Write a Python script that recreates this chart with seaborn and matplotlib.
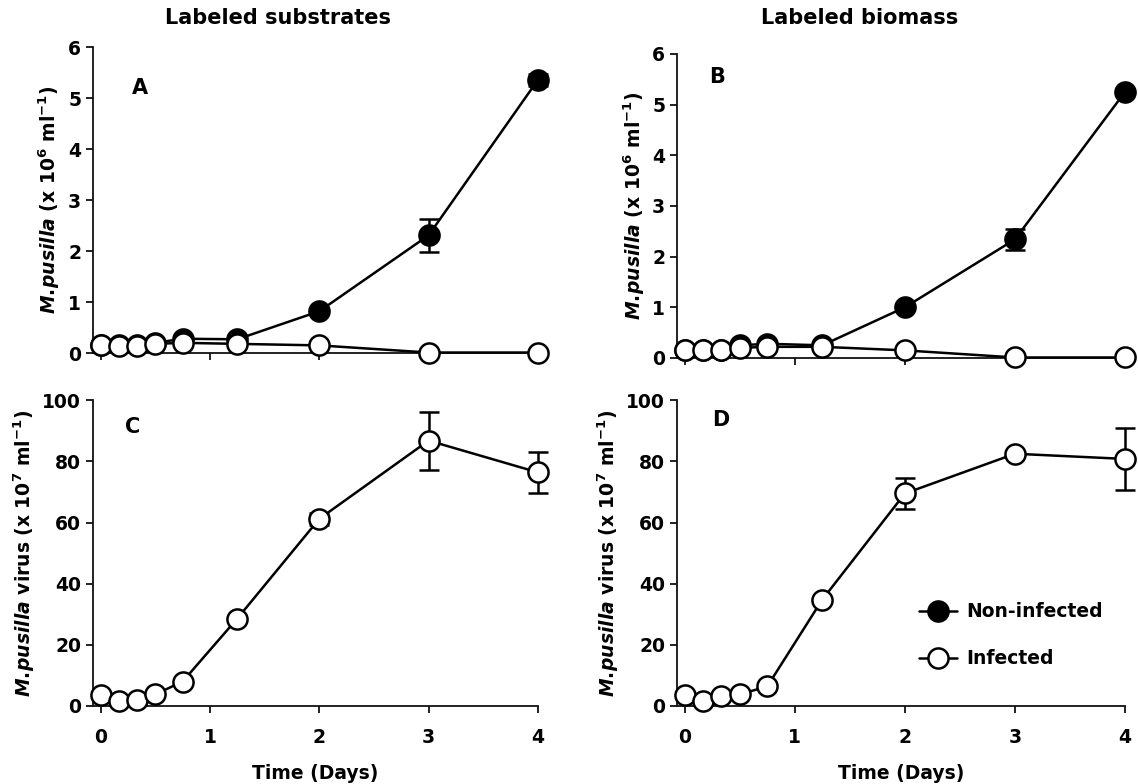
import matplotlib
matplotlib.use("Agg")
import matplotlib.pyplot as plt
from matplotlib.lines import Line2D
import seaborn as sns
import pandas as pd

# ---- data ----
days = [0, 0.17, 0.33, 0.5, 0.75, 1.25, 2, 3, 4]

a_noninf = [0.15, 0.15, 0.15, 0.20, 0.28, 0.27, 0.82, 2.31, 5.36]
a_noninf_err = [0, 0, 0, 0, 0, 0, 0.05, 0.32, 0.12]
a_inf = [0.15, 0.13, 0.13, 0.18, 0.20, 0.18, 0.15, 0.01, 0.01]

b_noninf = [0.15, 0.15, 0.15, 0.25, 0.28, 0.25, 1.00, 2.34, 5.25]
b_noninf_err = [0, 0, 0, 0, 0, 0, 0.05, 0.21, 0.05]
b_inf = [0.15, 0.15, 0.15, 0.20, 0.22, 0.22, 0.15, 0.01, 0.01]

c_virus = [3.5, 1.7, 2.0, 3.8, 8.0, 28.6, 61.2, 86.8, 76.4]
c_virus_err = [0, 0, 0, 0, 0, 0, 2.0, 9.5, 6.7]

d_virus = [3.5, 1.5, 3.3, 3.8, 6.4, 34.8, 69.5, 82.5, 80.8]
d_virus_err = [0, 0, 0, 0, 0, 0, 5.0, 0, 10.0]

titles = ["Labeled substrates", "Labeled biomass"]
panel_letters = ["A", "B", "C", "D"]
legend_labels = ["Non-infected", "Infected"]

sns.set_theme(style="ticks")
plt.rcParams["font.family"] = ["DejaVu Sans"]
plt.rcParams["font.weight"] = "bold"
plt.rcParams["text.color"] = "black"
plt.rcParams["axes.labelcolor"] = "black"
plt.rcParams["xtick.color"] = "black"
plt.rcParams["ytick.color"] = "black"
plt.rcParams["mathtext.fontset"] = "custom"
plt.rcParams["mathtext.rm"] = "DejaVu Sans:bold"
plt.rcParams["mathtext.it"] = "DejaVu Sans:italic:bold"
plt.rcParams["mathtext.bf"] = "DejaVu Sans:bold"
plt.rcParams["mathtext.default"] = "rm"

fig = plt.figure(figsize=(11.38, 7.84), dpi=100)
axA = fig.add_axes([0.0817, 0.5497, 0.391, 0.390])
axB = fig.add_axes([0.5949, 0.5434, 0.3937, 0.3878])
axC = fig.add_axes([0.0817, 0.0995, 0.391, 0.390])
axD = fig.add_axes([0.5949, 0.0995, 0.3937, 0.390])

MS = 14.5
MEW = 1.8
LW = 1.8
FS = 13.5


def draw_series(ax, y, err, filled, z):
    df = pd.DataFrame({"day": days, "val": y})
    sns.lineplot(data=df, x="day", y="val", ax=ax, color="black", linewidth=LW,
                 marker="o", markersize=MS, markeredgewidth=MEW,
                 markerfacecolor="black" if filled else "white",
                 markeredgecolor="black", clip_on=False, zorder=z, errorbar=None)
    if err is not None:
        xs = [d for d, e in zip(days, err) if e > 0]
        ys = [v for v, e in zip(y, err) if e > 0]
        es = [e for e in err if e > 0]
        ax.errorbar(xs, ys, yerr=es, fmt="none", ecolor="black", elinewidth=LW,
                    capsize=7, capthick=LW, zorder=z - 1, clip_on=False)


draw_series(axA, a_noninf, a_noninf_err, True, 4)
draw_series(axA, a_inf, None, False, 6)
draw_series(axB, b_noninf, b_noninf_err, True, 4)
draw_series(axB, b_inf, None, False, 6)
draw_series(axC, c_virus, c_virus_err, False, 6)
draw_series(axD, d_virus, d_virus_err, False, 6)

label_top = r"$\mathit{M.\!pusilla}$ (x 10$^{6}$ ml$^{-1}$)"
label_bot = r"$\mathit{M.\!pusilla}$ virus (x 10$^{7}$ ml$^{-1}$)"

for ax, letter, pos in zip([axA, axB, axC, axD], panel_letters,
                           [(0.105, 0.866), (0.09, 0.924), (0.09, 0.912), (0.098, 0.935)]):
    sns.despine(ax=ax)
    ax.set_xlim(-0.07, 4.0)
    ax.set_xticks([0, 1, 2, 3, 4])
    for s in ["left", "bottom"]:
        ax.spines[s].set_linewidth(1.3)
        ax.spines[s].set_color("#111111")
    ax.tick_params(axis="both", direction="out", length=5, width=1.3,
                   color="#111111", labelsize=FS, labelcolor="black")
    ax.tick_params(axis="x", pad=11)
    ax.text(pos[0], pos[1], letter, transform=ax.transAxes, fontsize=15,
            fontweight="bold", ha="center", va="center", color="black")

for ax in [axA, axB]:
    ax.set_ylim(0, 6)
    ax.set_yticks([0, 1, 2, 3, 4, 5, 6])
    ax.tick_params(axis="x", labelbottom=False)
    ax.set_xlabel("")
    ax.set_ylabel(label_top, fontsize=FS, fontweight="bold", color="black")

for ax in [axC, axD]:
    ax.set_ylim(0, 100)
    ax.set_yticks([0, 20, 40, 60, 80, 100])
    ax.set_xlabel("Time (Days)", fontsize=FS, fontweight="bold", labelpad=12,
                  color="black")
    ax.set_ylabel(label_bot, fontsize=FS, fontweight="bold", color="black")

for ax in [axA, axB, axC, axD]:
    for t in ax.get_xticklabels() + ax.get_yticklabels():
        t.set_fontweight("bold")
        t.set_fontsize(FS)

fig.text(278 / 1138, 1 - 18 / 784, titles[0], fontsize=15, fontweight="bold",
         ha="center", va="center", color="black")
fig.text(860 / 1138, 1 - 18 / 784, titles[1], fontsize=15, fontweight="bold",
         ha="center", va="center", color="black")

handles = [
    Line2D([], [], color="black", linewidth=LW, marker="o", markersize=MS,
           markerfacecolor="black", markeredgecolor="black", markeredgewidth=MEW),
    Line2D([], [], color="black", linewidth=LW, marker="o", markersize=MS,
           markerfacecolor="white", markeredgecolor="black", markeredgewidth=MEW),
]
leg = axD.legend(handles, legend_labels, loc="upper left", bbox_to_anchor=(0.52, 0.37),
                 frameon=False, fontsize=FS, handlelength=2.0, labelspacing=1.5,
                 handletextpad=0.5, borderpad=0)
for t in leg.get_texts():
    t.set_fontweight("bold")
    t.set_color("black")

fig.savefig("out.png", dpi=100)
